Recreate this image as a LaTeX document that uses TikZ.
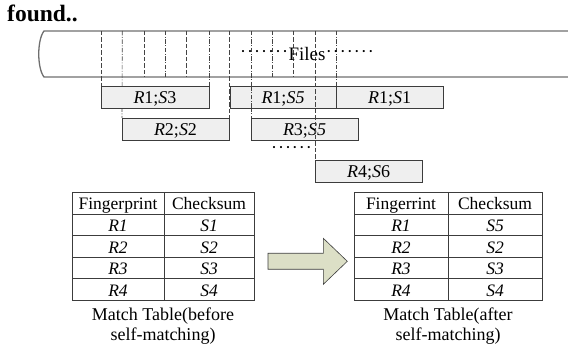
\documentclass[tikz,border=0pt]{standalone}
\usepackage{fontspec}
\setmainfont{Liberation Serif}
\definecolor{bandc}{HTML}{6E6E6E}
\definecolor{linec}{HTML}{3C3C3C}
\definecolor{dashc}{HTML}{444444}
\definecolor{boxfill}{HTML}{EFEFEF}
\definecolor{arrowfill}{HTML}{DCDFC6}
\begin{document}
\begin{tikzpicture}[x=1pt,y=-1pt,
  band/.style={draw=bandc,line width=1.3pt},
  guide/.style={draw=dashc,line width=0.6pt,dash pattern=on 4.5pt off 2pt},
  guidedot/.style={draw=dashc,line width=0.6pt,dash pattern=on 4.5pt off 1.5pt on 1pt off 1.5pt},
  seg/.style={draw=linec,fill=boxfill,line width=0.8pt,minimum height=22pt,inner sep=0pt,outer sep=0pt,
    text height=12.6pt,text depth=0pt,font=\fontsize{18}{20}\selectfont},
  cell/.style={draw=linec,line width=0.8pt,minimum height=21.6pt,inner sep=0pt,outer sep=0pt,
    text height=13.6pt,text depth=0pt,font=\fontsize{17.5}{20}\selectfont},
  caption/.style={align=center,font=\fontsize{18}{20}\selectfont,inner sep=0pt},
  bigarrow/.style={draw=linec,fill=arrowfill,line width=0.6pt}]
\useasboundingbox (0,0) rectangle (568,355);

% title fragment
\node[anchor=base west,inner sep=0pt,font=\fontsize{23.5}{25}\selectfont\bfseries] (found) at (7,21.5) {found..};

% file band
\coordinate (bandTL) at (44,31);
\coordinate (bandBL) at (44,77);
\coordinate (bandTR) at (568,31);
\coordinate (bandBR) at (568,77);
\draw[band] (bandTR) -- (bandTL) .. controls (37,40) and (37,68) .. (bandBL) -- (bandBR);

% segment boxes (positions)
\node[seg,minimum width=108pt] (r13) at (155,97) {\textit{R}1;\textit{S}3};
\node[seg,minimum width=107pt] (r22) at (175.5,129) {\textit{R}2;\textit{S}2};
\node[seg,minimum width=106pt] (r15) at (283,97) {\textit{R}1;\textit{S5}};
\node[seg,minimum width=107pt] (r11) at (389.5,97) {\textit{R}1;\textit{S}1};
\node[seg,minimum width=107pt] (r35) at (304.5,129) {\textit{R}3;\textit{S5}};
\node[seg,minimum width=107pt] (r46) at (368.5,171) {\textit{R}4;\textit{S}6};

% guide lines
\coordinate (t1) at (101,31);
\coordinate (t2) at (122.3,31);
\coordinate (t6) at (209,31);
\coordinate (t7) at (229,31);
\coordinate (t8) at (251,31);
\coordinate (t11) at (315,31);
\coordinate (t12) at (336,31);
\draw[guide] (t1) -- (r13.north west);
\draw[guidedot] (t2) -- (r22.north west);
\foreach \x/\s in {144/guide,165.3/guidedot,186.7/guide,272.3/guidedot,293.7/guide}{
  \draw[\s] (\x,31) -- (\x,77);
}
\draw[guidedot] (t6) -- (r13.north east);
\draw[guide] (t7) -- (r22.north east);
\draw[guidedot] (t8) -- (r35.north west);
\draw[guide] (t11) -- (r46.north west);
\draw[guidedot] (t12) -- (r15.north east);

% redraw boxes on top of the guides
\node[seg,minimum width=108pt] at (r13) {\textit{R}1;\textit{S}3};
\node[seg,minimum width=107pt] at (r22) {\textit{R}2;\textit{S}2};
\node[seg,minimum width=106pt] at (r15) {\textit{R}1;\textit{S5}};
\node[seg,minimum width=107pt] at (r11) {\textit{R}1;\textit{S}1};
\node[seg,minimum width=107pt] at (r35) {\textit{R}3;\textit{S5}};
\node[seg,minimum width=107pt] at (r46) {\textit{R}4;\textit{S}6};
% guide lines visible through boxes
\draw[guidedot] (r15.south west -| t8) -- (r15.north west -| t8);
\draw[guide] (t11) -- (r46.north west);

% files label and dots
\node[inner sep=0pt,font=\fontsize{19}{20}\selectfont] (files) at (307,54) {Files};
\node[inner sep=0pt,anchor=east,font=\fontsize{18}{20}\selectfont] (ldots) at (files.west) {·\kern1pt·\kern1pt·\kern1pt·\kern1pt·\kern1pt·\kern1pt·};
\node[inner sep=0pt,anchor=west,font=\fontsize{18}{20}\selectfont] (rdots) at (files.east) {·\kern1pt·\kern1pt·\kern1pt·\kern1pt·\kern1pt·\kern1pt·};

% ellipsis under R3;S5
\node[inner sep=0pt,font=\fontsize{18}{20}\selectfont] (more) at (291.5,150) {·\kern1pt·\kern1pt·\kern1pt·\kern1pt·\kern1pt·};

% left table
\node[cell,minimum width=92pt] (la0) at (118,203.2) {Fingerprint};
\node[cell,minimum width=90pt] (lb0) at (209,203.2) {Checksum};
\foreach \i/\r/\s in {1/R1/S1,2/R2/S2,3/R3/S3,4/R4/S4}{
  \node[cell,minimum width=92pt] (la\i) at (118,203.2+21.6*\i) {\textit{\r}};
  \node[cell,minimum width=90pt] (lb\i) at (209,203.2+21.6*\i) {\textit{\s}};
}
\node[caption] (lcap) at (163,326) {Match Table(before\\self-matching)};

% right table
\node[cell,minimum width=94pt] (ra0) at (401,203.2) {Fingerrint};
\node[cell,minimum width=94pt] (rb0) at (495,203.2) {Checksum};
\foreach \i/\r/\s in {1/R1/S5,2/R2/S2,3/R3/S3,4/R4/S4}{
  \node[cell,minimum width=94pt] (ra\i) at (401,203.2+21.6*\i) {\textit{\r}};
  \node[cell,minimum width=94pt] (rb\i) at (495,203.2+21.6*\i) {\textit{\s}};
}
\node[caption] (rcap) at (448,326) {Match Table(after\\self-matching)};

% transition arrow
\draw[bigarrow] (268,253.3) -- (323.3,253.3) -- (323.3,238.3) -- (347.3,261.3)
  -- (323.3,284.3) -- (323.3,269.3) -- (268,269.3) -- cycle;
\end{tikzpicture}
\end{document}
